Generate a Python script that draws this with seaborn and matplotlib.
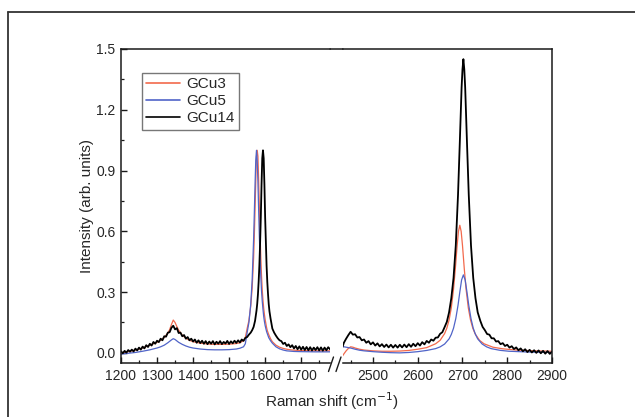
import matplotlib
matplotlib.use("Agg")
import matplotlib.pyplot as plt
from matplotlib.lines import Line2D
from matplotlib.ticker import MultipleLocator
import seaborn as sns
import pandas as pd

sns.set_style("ticks")
plt.rcParams['font.family'] = ['Liberation Sans', 'DejaVu Sans']

# ---------------- data ----------------
series_names = ["GCu3", "GCu5", "GCu14"]

# left segment (D and G bands)
x_red_left = [1200, 1220, 1240, 1260, 1280, 1300, 1310, 1320, 1330, 1335, 1340, 1345, 1350, 1355,
              1360, 1370, 1380, 1390, 1400, 1420, 1440, 1460, 1480, 1500, 1520, 1530, 1540, 1545,
              1550, 1555, 1560, 1564, 1568, 1570, 1572, 1574, 1576, 1578, 1580, 1582, 1584, 1586,
              1588, 1590, 1592, 1594, 1596, 1598, 1600, 1602, 1604, 1606, 1610, 1615, 1620, 1630,
              1640, 1650, 1660, 1670, 1690, 1710, 1740, 1780]
y_red_left = [0.0, 0.006, 0.014, 0.024, 0.038, 0.052, 0.062, 0.076, 0.098, 0.115, 0.14, 0.162, 0.15,
              0.13, 0.112, 0.088, 0.072, 0.062, 0.055, 0.048, 0.044, 0.042, 0.042, 0.043, 0.046, 0.05,
              0.06, 0.075, 0.12, 0.16, 0.23, 0.32, 0.47, 0.58, 0.71, 0.85, 0.97, 1.0, 0.97, 0.85, 0.71,
              0.58, 0.47, 0.38, 0.31, 0.26, 0.22, 0.19, 0.165, 0.145, 0.125, 0.11, 0.09, 0.07, 0.055,
              0.038, 0.028, 0.022, 0.018, 0.015, 0.012, 0.011, 0.010, 0.010]

x_blue_left = [1200, 1220, 1240, 1260, 1280, 1300, 1310, 1320, 1330, 1340, 1345, 1350, 1360, 1370,
               1380, 1390, 1400, 1420, 1440, 1460, 1480, 1500, 1520, 1530, 1540, 1545, 1550, 1555,
               1560, 1564, 1568, 1570, 1572, 1574, 1576, 1578, 1580, 1582, 1584, 1586, 1588, 1590,
               1592, 1594, 1596, 1598, 1600, 1602, 1604, 1606, 1610, 1615, 1620, 1630, 1640, 1650,
               1660, 1680, 1700, 1740, 1780]
y_blue_left = [-0.006, -0.002, 0.002, 0.008, 0.015, 0.024, 0.03, 0.038, 0.05, 0.064, 0.07, 0.066,
               0.052, 0.042, 0.034, 0.028, 0.024, 0.019, 0.016, 0.015, 0.015, 0.016, 0.019, 0.023,
               0.03, 0.045, 0.1, 0.15, 0.24, 0.36, 0.56, 0.69, 0.83, 0.95, 1.0, 0.95, 0.845, 0.705,
               0.575, 0.465, 0.375, 0.305, 0.255, 0.215, 0.18, 0.155, 0.135, 0.12, 0.105, 0.095,
               0.075, 0.06, 0.048, 0.03, 0.02, 0.014, 0.01, 0.007, 0.006, 0.005, 0.005]

x_black_left = [1200, 1205, 1210, 1215, 1220, 1225, 1230, 1235, 1240, 1245, 1250, 1255, 1260, 1265,
                1270, 1275, 1280, 1285, 1290, 1295, 1300, 1305, 1310, 1315, 1320, 1325, 1330, 1335,
                1340, 1345, 1350, 1355, 1360, 1365, 1370, 1375, 1380, 1385, 1390, 1395, 1400, 1405,
                1410, 1415, 1420, 1425, 1430, 1435, 1440, 1445, 1450, 1455, 1460, 1465, 1470, 1475,
                1480, 1485, 1490, 1495, 1500, 1505, 1510, 1515, 1520, 1525, 1530, 1535, 1540, 1545,
                1550, 1555, 1560, 1564, 1568, 1570, 1572, 1574, 1576, 1578, 1580, 1582, 1584, 1586,
                1588, 1590, 1592, 1594, 1596, 1598, 1600, 1602, 1604, 1606, 1608, 1610, 1612, 1615,
                1618, 1620, 1625, 1630, 1635, 1640, 1645, 1650, 1655, 1660, 1665, 1670, 1675, 1680,
                1685, 1690, 1695, 1700, 1705, 1710, 1715, 1720, 1725, 1730, 1735, 1740, 1745, 1750,
                1755, 1760, 1765, 1770, 1775, 1780]
y_black_left = [0.008, -0.002, 0.010, 0.001, 0.014, 0.006, 0.016, 0.007, 0.021, 0.012, 0.026, 0.016,
                0.031, 0.022, 0.038, 0.029, 0.045, 0.036, 0.054, 0.045, 0.060, 0.053, 0.070, 0.062,
                0.082, 0.080, 0.100, 0.102, 0.124, 0.134, 0.116, 0.122, 0.098, 0.100, 0.082, 0.088,
                0.070, 0.078, 0.062, 0.070, 0.056, 0.066, 0.050, 0.062, 0.048, 0.060, 0.045, 0.058,
                0.043, 0.056, 0.045, 0.058, 0.042, 0.055, 0.045, 0.058, 0.043, 0.054, 0.046, 0.059,
                0.044, 0.057, 0.047, 0.060, 0.049, 0.062, 0.051, 0.066, 0.059, 0.074, 0.078, 0.090,
                0.100, 0.112, 0.128, 0.142, 0.158, 0.182, 0.208, 0.242, 0.288, 0.352, 0.432, 0.54,
                0.67, 0.83, 0.96, 1.0, 0.96, 0.83, 0.67, 0.54, 0.43, 0.35, 0.29, 0.24, 0.205, 0.17,
                0.14, 0.12, 0.10, 0.085, 0.072, 0.062, 0.058, 0.044, 0.050, 0.034, 0.042, 0.028,
                0.038, 0.022, 0.034, 0.018, 0.032, 0.016, 0.030, 0.014, 0.029, 0.013, 0.028, 0.012,
                0.026, 0.014, 0.028, 0.012, 0.027, 0.011, 0.026, 0.013, 0.028, 0.018]

# right segment (2D band)
x_red_right = [2432, 2435, 2440, 2445, 2450, 2455, 2460, 2470, 2480, 2500, 2520, 2540, 2560, 2580,
               2600, 2620, 2640, 2650, 2660, 2665, 2670, 2675, 2680, 2684, 2688, 2691, 2694, 2697,
               2700, 2704, 2708, 2713, 2718, 2723, 2728, 2738, 2748, 2768, 2790, 2820, 2860, 2900]
y_red_right = [-0.015, -0.005, 0.01, 0.022, 0.03, 0.028, 0.024, 0.018, 0.014, 0.01, 0.008, 0.008,
               0.009, 0.012, 0.018, 0.026, 0.045, 0.062, 0.095, 0.122, 0.162, 0.222, 0.315, 0.415,
               0.53, 0.60, 0.63, 0.60, 0.53, 0.415, 0.315, 0.222, 0.162, 0.122, 0.095, 0.062, 0.045,
               0.028, 0.02, 0.014, 0.01, 0.008]

x_blue_right = [2432, 2435, 2440, 2450, 2460, 2470, 2480, 2500, 2520, 2540, 2560, 2580, 2600, 2620,
                2640, 2650, 2660, 2670, 2675, 2680, 2685, 2690, 2694, 2698, 2702, 2706, 2710, 2714,
                2719, 2724, 2729, 2734, 2744, 2754, 2764, 2784, 2804, 2850, 2900]
y_blue_right = [0.03, 0.03, 0.028, 0.024, 0.018, 0.013, 0.01, 0.006, 0.003, 0.001, 0.0, 0.002,
                0.006, 0.012, 0.021, 0.0296, 0.0435, 0.069, 0.091, 0.122, 0.169, 0.235, 0.30, 0.36,
                0.385, 0.36, 0.30, 0.235, 0.169, 0.122, 0.091, 0.069, 0.0435, 0.0296, 0.021, 0.0125,
                0.008, 0.004, 0.002]

x_black_right = [2432, 2435, 2440, 2445, 2450, 2455, 2460, 2465, 2470, 2475, 2480, 2485, 2490, 2495,
                 2500, 2505, 2510, 2515, 2520, 2525, 2530, 2535, 2540, 2545, 2550, 2555, 2560, 2565,
                 2570, 2575, 2580, 2585, 2590, 2595, 2600, 2605, 2610, 2615, 2620, 2625, 2630, 2635,
                 2640, 2645, 2650, 2655, 2660, 2665, 2670, 2675, 2680, 2685, 2690, 2694, 2698, 2700,
                 2702, 2704, 2706, 2710, 2714, 2719, 2724, 2729, 2734, 2740, 2745, 2750, 2755, 2760,
                 2765, 2770, 2775, 2780, 2785, 2790, 2795, 2800, 2805, 2810, 2815, 2820, 2825, 2830,
                 2835, 2840, 2845, 2850, 2855, 2860, 2865, 2870, 2875, 2880, 2885, 2890, 2895, 2900]
y_black_right = [0.03, 0.05, 0.07, 0.088, 0.104, 0.090, 0.092, 0.076, 0.078, 0.062, 0.066, 0.050,
                 0.058, 0.042, 0.052, 0.036, 0.047, 0.032, 0.043, 0.029, 0.041, 0.027, 0.040, 0.026,
                 0.039, 0.026, 0.040, 0.027, 0.041, 0.028, 0.043, 0.030, 0.045, 0.033, 0.048, 0.036,
                 0.053, 0.042, 0.059, 0.050, 0.066, 0.060, 0.075, 0.076, 0.094, 0.102, 0.127, 0.153,
                 0.20, 0.27, 0.37, 0.53, 0.78, 1.04, 1.31, 1.40, 1.45, 1.40, 1.31, 1.04, 0.78, 0.53,
                 0.37, 0.27, 0.20, 0.157, 0.128, 0.112, 0.093, 0.090, 0.072, 0.072, 0.056, 0.058, 0.043,
                 0.048, 0.034, 0.040, 0.026, 0.033, 0.019, 0.027, 0.013, 0.022, 0.008, 0.018, 0.004,
                 0.015, 0.002, 0.013, 0.000, 0.012, -0.002, 0.010, -0.004, 0.009, -0.005, 0.006]

left_ticks = [1200, 1300, 1400, 1500, 1600, 1700]
right_ticks = [2500, 2600, 2700, 2800, 2900]
y_ticks = [0.0, 0.3, 0.6, 0.9, 1.2, 1.5]

colors = {"GCu3": "#f2694c", "GCu5": "#5064c8", "GCu14": "#000000"}
widths = {"GCu3": 0.9, "GCu5": 0.9, "GCu14": 1.3}

def make_df(x, y, name):
    return pd.DataFrame({"x": x, "y": y, "s": name})

left_df = pd.concat([make_df(x_red_left, y_red_left, "GCu3"),
                     make_df(x_blue_left, y_blue_left, "GCu5"),
                     make_df(x_black_left, y_black_left, "GCu14")])
right_df = pd.concat([make_df(x_red_right, y_red_right, "GCu3"),
                      make_df(x_blue_right, y_blue_right, "GCu5"),
                      make_df(x_black_right, y_black_right, "GCu14")])

# ---------------- figure ----------------
W, H = 635, 417
fig = plt.figure(figsize=(W / 100, H / 100), dpi=100)

def fx(px):
    return px / W

def fy(py):
    return 1 - py / H

ax_l = fig.add_axes([fx(121), fy(363), fx(330) - fx(121), fy(49) - fy(363)])
ax_r = fig.add_axes([fx(343), fy(363), fx(552) - fx(343), fy(49) - fy(363)], sharey=ax_l)

for ax, df in ((ax_l, left_df), (ax_r, right_df)):
    for name in ["GCu3", "GCu5", "GCu14"]:
        sub = df[df["s"] == name]
        sns.lineplot(data=sub, x="x", y="y", ax=ax, color=colors[name],
                     linewidth=widths[name], sort=False, estimator=None, legend=False)
    ax.set_xlabel("")
    ax.set_ylabel("")
    for s in ax.spines.values():
        s.set_color("#1a1a1a")
        s.set_linewidth(1.1)

ax_l.set_xlim(1200, 1780)
ax_r.set_xlim(2433, 2900)
ax_l.set_ylim(-0.05, 1.5)

ax_l.spines["right"].set_visible(False)
ax_r.spines["left"].set_visible(False)

ax_l.set_xticks(left_ticks)
ax_l.set_xticklabels([str(t) for t in left_ticks])
ax_l.xaxis.set_minor_locator(MultipleLocator(50))
ax_r.set_xticks(right_ticks)
ax_r.set_xticklabels([str(t) for t in right_ticks])
ax_r.xaxis.set_minor_locator(MultipleLocator(50))
ax_l.set_yticks(y_ticks)
ax_l.set_yticklabels([f"{t:.1f}" for t in y_ticks])
ax_l.yaxis.set_minor_locator(MultipleLocator(0.15))

for ax in (ax_l, ax_r):
    ax.tick_params(axis="both", which="major", direction="in", length=4, width=1.0,
                   labelsize=10, pad=4, color="#1a1a1a", top=False, right=False)
    ax.tick_params(axis="both", which="minor", direction="in", length=2.5, width=0.9,
                   color="#1a1a1a", top=False, right=False)
ax_r.tick_params(axis="y", which="both", left=False, labelleft=False)

# continuous top frame across the break and break marks
fig.add_artist(Line2D([fx(330), fx(343)], [fy(49), fy(49)], color="#1a1a1a", lw=1.1))
fig.add_artist(Line2D([fx(328.5), fx(333.5)], [fy(371.5), fy(357)], color="#1a1a1a", lw=1.0))
fig.add_artist(Line2D([fx(336), fx(341)], [fy(371.5), fy(357)], color="#1a1a1a", lw=1.0))

# outer border
fig.add_artist(Line2D([fx(8), 1.0], [fy(12), fy(12)], color="#333333", lw=1.3))
fig.add_artist(Line2D([fx(8), fx(8)], [fy(12), 0.0], color="#333333", lw=1.3))

# axis labels
fig.text(fx(332), fy(401), "Raman shift (cm$^{-1}$)", ha="center", va="center", fontsize=11)
fig.text(fx(87), fy(206), "Intensity (arb. units)", ha="center", va="center",
         rotation=90, fontsize=11)

# legend
handles = [Line2D([], [], color=colors[n], lw=1.2) for n in series_names]
leg = ax_l.legend(handles, series_names, loc="upper left", bbox_to_anchor=(0.099, 0.9245),
                  borderaxespad=0, fontsize=11, frameon=True, fancybox=False,
                  handlelength=2.2, handletextpad=0.4, labelspacing=0.2, borderpad=0.3)
leg.get_frame().set_edgecolor("#555555")
leg.get_frame().set_linewidth(1.0)

fig.savefig("out.png", dpi=100)
